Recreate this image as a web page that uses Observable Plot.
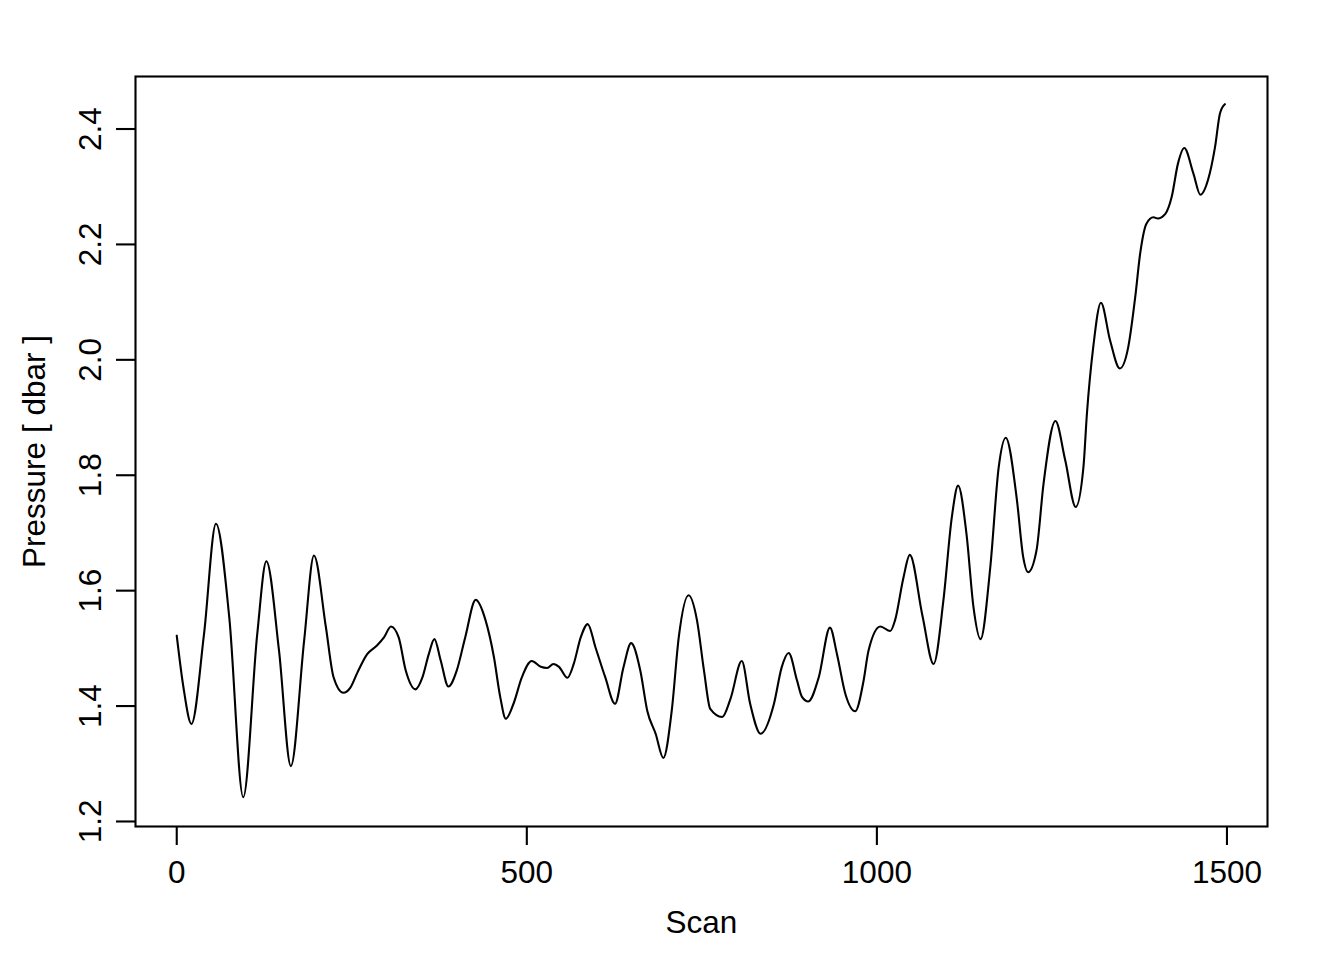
<!DOCTYPE html>
<html>
<head>
<meta charset="utf-8">
<script src="https://cdn.jsdelivr.net/npm/d3@7"></script>
<script src="https://cdn.jsdelivr.net/npm/@observablehq/plot@0.6"></script>
<style>
  html, body { margin: 0; padding: 0; background: #fff; }
  #chart svg { display: block; }
</style>
</head>
<body>
<div id="chart"></div>
<script>
// Scan index (x) and pressure in dbar (y)
const scan = [0, 9.5, 21, 39, 56, 75, 95, 115, 128, 146, 163, 182, 196, 213, 224, 238, 248, 258, 272, 286,
  296, 306, 317, 327, 341, 351, 360, 368, 377, 388, 400, 412, 427, 441, 453, 462, 470, 481, 493, 507,
  520, 529, 538, 546, 558, 567, 577, 587, 598, 612, 626, 638, 649, 662, 672, 684, 695, 707, 717, 731,
  743, 753, 762, 779, 791, 807, 819, 834, 853, 864, 874, 886, 893, 902, 917, 933, 943, 955, 969, 981,
  988, 1005, 1019, 1026, 1038, 1047, 1065, 1081, 1095, 1107, 1116, 1128, 1138, 1148, 1162, 1174, 1184, 1200, 1209, 1216,
  1228, 1238, 1255, 1269, 1284, 1295, 1300, 1309, 1320, 1333, 1347, 1359, 1369, 1376, 1385, 1395, 1401, 1412, 1421, 1430,
  1439, 1452, 1462, 1473, 1483, 1490, 1497];
const pressure = [1.522, 1.433, 1.369, 1.525, 1.716, 1.554, 1.242, 1.525, 1.651, 1.497, 1.296, 1.514, 1.661, 1.537, 1.450, 1.423, 1.432, 1.458, 1.490, 1.505,
  1.519, 1.538, 1.519, 1.462, 1.429, 1.450, 1.490, 1.516, 1.479, 1.434, 1.462, 1.519, 1.584, 1.549, 1.485, 1.416, 1.378, 1.404, 1.450, 1.478,
  1.468, 1.466, 1.473, 1.468, 1.449, 1.473, 1.519, 1.542, 1.502, 1.450, 1.404, 1.467, 1.509, 1.462, 1.392, 1.352, 1.310, 1.392, 1.519, 1.592,
  1.549, 1.462, 1.395, 1.381, 1.413, 1.478, 1.404, 1.352, 1.404, 1.467, 1.492, 1.444, 1.416, 1.408, 1.450, 1.536, 1.490, 1.421, 1.391, 1.444,
  1.496, 1.538, 1.530, 1.549, 1.623, 1.662, 1.557, 1.473, 1.583, 1.727, 1.782, 1.698, 1.571, 1.516, 1.641, 1.814, 1.865, 1.757, 1.658, 1.632,
  1.670, 1.785, 1.894, 1.826, 1.745, 1.814, 1.907, 2.022, 2.099, 2.034, 1.985, 2.022, 2.109, 2.184, 2.236, 2.247, 2.245, 2.253, 2.282, 2.340,
  2.367, 2.323, 2.286, 2.312, 2.369, 2.427, 2.443];

const xTicks = [0, 500, 1000, 1500];
const yTicks = [1.2, 1.4, 1.6, 1.8, 2.0, 2.2, 2.4];
const xLabel = "Scan";
const yLabel = "Pressure [ dbar ]";

const data = scan.map((s, i) => ({scan: s, pressure: pressure[i]}));

const lw = 2.1;
const fs = 31.5;

const chart = Plot.plot({
  width: 1344,
  height: 960,
  marginLeft: 135,
  marginRight: 77,
  marginTop: 76,
  marginBottom: 134,
  style: {fontFamily: "'Liberation Sans', Arial, Helvetica, sans-serif", fontSize: fs + "px", background: "#fff", color: "#000"},
  x: {domain: [-58.9, 1557.9]},
  y: {domain: [1.1913, 2.491]},
  marks: [
    Plot.line(data, {x: "scan", y: "pressure", stroke: "black", strokeWidth: lw, curve: "monotone-x"}),
    Plot.frame({stroke: "black", strokeWidth: lw}),
    Plot.axisX({ticks: xTicks, tickSize: 19, tickPadding: 15, tickFormat: d3.format("d"), label: null, fontSize: fs, strokeWidth: lw}),
    Plot.axisY({ticks: yTicks, tickSize: 19, tickPadding: 16, tickRotate: -90, tickFormat: d3.format(".1f"), label: null, fontSize: fs, strokeWidth: lw}),
    Plot.text([xLabel], {text: d => d, frameAnchor: "bottom", dy: 106, lineAnchor: "bottom", fontSize: fs}),
    Plot.text([yLabel], {text: d => d, frameAnchor: "left", textAnchor: "middle", dx: -91, rotate: -90, lineAnchor: "bottom", fontSize: fs})
  ]
});
document.getElementById("chart").appendChild(chart);
</script>
</body>
</html>
